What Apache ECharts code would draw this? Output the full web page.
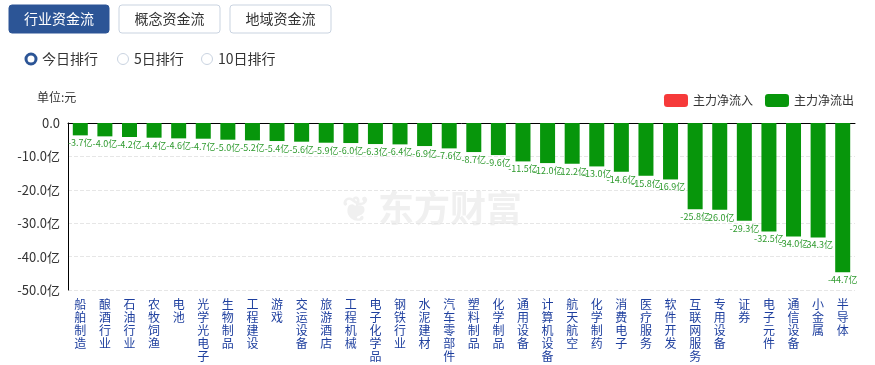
<!DOCTYPE html>
<html><head><meta charset="utf-8">
<script src="https://cdn.jsdelivr.net/npm/echarts@6/dist/echarts.min.js"></script>
<style>html,body{margin:0;padding:0;background:#fff}#c{width:875px;height:365px}</style>
</head><body><div id="c"></div>
<script>
const categories = ['船舶制造','酿酒行业','石油行业','农牧饲渔','电池','光学光电子','生物制品','工程建设','游戏','交运设备','旅游酒店','工程机械','电子化学品','钢铁行业','水泥建材','汽车零部件','塑料制品','化学制品','通用设备','计算机设备','航天航空','化学制药','消费电子','医疗服务','软件开发','互联网服务','专用设备','证券','电子元件','通信设备','小金属','半导体'];
const outflow = [-3.7,-4.0,-4.2,-4.4,-4.6,-4.7,-5.0,-5.2,-5.4,-5.6,-5.9,-6.0,-6.3,-6.4,-6.9,-7.6,-8.7,-9.6,-11.5,-12.0,-12.2,-13.0,-14.6,-15.8,-16.9,-25.8,-26.0,-29.3,-32.5,-34.0,-34.3,-44.7];
const inflow = categories.map(() => '-');
const yTicks = [0,-10,-20,-30,-40,-50];

const chart = echarts.init(document.getElementById('c'));
const F = '"Noto Sans CJK SC","Microsoft YaHei",sans-serif';
function btn(x,w,text,active){
  return {type:'group',children:[
    {type:'rect',shape:{x:x,y:5,width:w,height:28,r:3},style:{fill:active?'#2c5596':'#fff',stroke:active?'#2c5596':'#c9d3e0',lineWidth:1}},
    {type:'text',x:x+w/2,y:19,style:{text:text,fill:active?'#fff':'#333',font:'14px '+F,textAlign:'center',textVerticalAlign:'middle'}}
  ]};
}
function radio(x,text,active){
  return {type:'group',children:[
    {type:'circle',shape:{cx:x,cy:59,r:active?5:5.5},style:{fill:'#fff',stroke:active?'#2c5596':'#c9d3e0',lineWidth:active?3:1}},
    {type:'text',x:x+11,y:59,style:{text:text,fill:'#333',font:'14px '+F,textVerticalAlign:'middle'}}
  ]};
}
chart.setOption({
  animation:false,
  graphic:[
    btn(9,100,'行业资金流',true),
    btn(119,101,'概念资金流',false),
    btn(230,101,'地域资金流',false),
    radio(31,'今日排行',true),
    radio(123,'5日排行',false),
    radio(207,'10日排行',false),
    {type:'text',x:37,y:97,style:{text:'单位:元',fill:'#333',font:'12px '+F,textVerticalAlign:'middle'}},
    {type:'text',x:378,y:208,z:-1,style:{text:'东方财富',fill:'#f0f0f0',font:'bold 36px '+F,textVerticalAlign:'middle'}},
    {type:'text',x:342,y:208,z:-1,style:{text:'❦',fill:'#f0f0f0',font:'bold 34px '+F,textVerticalAlign:'middle'}}
  ],
  legend:{right:16,top:89,icon:'roundRect',itemWidth:24,itemHeight:13,itemGap:12,textStyle:{color:'#333',fontSize:12,fontFamily:F},
    data:[{name:'主力净流入',itemStyle:{color:'#f63a3a'}},{name:'主力净流出',itemStyle:{color:'#07960b'}}]},
  grid:{left:68,right:20,top:123,bottom:75},
  xAxis:[
    {type:'category',data:categories,position:'bottom',axisLine:{show:false,onZero:false},axisTick:{show:false},
     axisLabel:{interval:0,margin:8,color:'#1e3f9e',fontSize:12,fontFamily:F,lineHeight:13,verticalAlign:'top',
       formatter:v=>v.split('').join('\n')}},
    {type:'category',data:categories,position:'top',axisLine:{show:true,lineStyle:{color:'#000'}},axisTick:{show:false},axisLabel:{show:false}}
  ],
  yAxis:{type:'value',min:-50,max:0,interval:10,
    axisLine:{show:true,lineStyle:{color:'#000'}},axisTick:{show:false},
    splitLine:{lineStyle:{color:'#e6e6e6',type:'dashed'}},
    axisLabel:{color:'#333',fontSize:13,fontFamily:F,margin:8,formatter:v=>v===0?'0.0':v.toFixed(1)+'亿'}},
  series:[
    {name:'主力净流入',type:'bar',stack:'a',data:inflow,itemStyle:{color:'#f63a3a'}},
    {name:'主力净流出',type:'bar',stack:'a',data:outflow,barWidth:15,itemStyle:{color:'#07960b'},
     label:{show:true,position:'bottom',distance:3,color:'#2e9a2e',fontSize:9,fontFamily:F,formatter:p=>p.value.toFixed(1)+'亿'}}
  ]
});
</script></body></html>
